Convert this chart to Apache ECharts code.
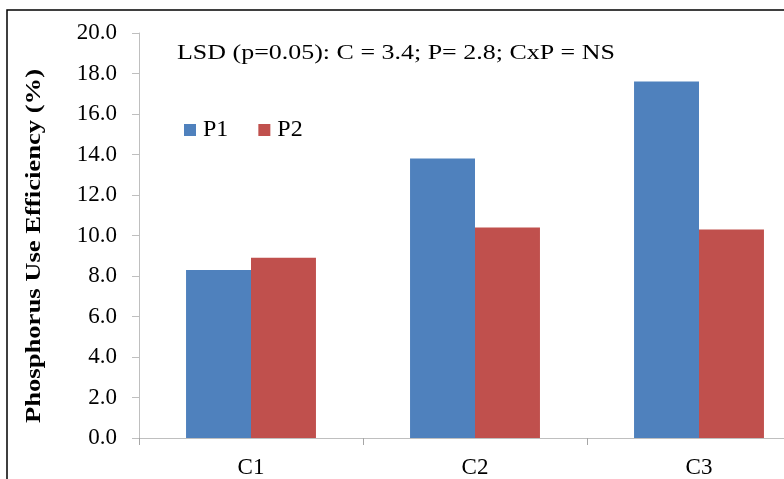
<!DOCTYPE html>
<html>
<head>
<meta charset="utf-8">
<script src="https://cdn.jsdelivr.net/npm/echarts@6/dist/echarts.min.js"></script>
<style>html,body{margin:0;padding:0;background:#fff;overflow:hidden;width:784px;height:479px}#c{width:820px;height:479px}</style>
</head>
<body>
<div id="c"></div>
<script>
var categories = ['C1', 'C2', 'C3'];
var seriesNames = ['P1', 'P2'];
var p1Values = [8.3, 13.8, 17.6];
var p2Values = [8.9, 10.4, 10.3];
var yTicks = [0, 2, 4, 6, 8, 10, 12, 14, 16, 18, 20];
var annotation = 'LSD (p=0.05): C = 3.4; P= 2.8; CxP = NS';
var yTitle = 'Phosphorus Use Efficiency (%)';

var font = '"Liberation Serif", "Times New Roman", serif';
var chart = echarts.init(document.getElementById('c'));
chart.setOption({
  animation: false,
  backgroundColor: '#fff',
  grid: { left: 139, top: 33, bottom: 41, right: 9, containLabel: false },
  legend: {
    data: seriesNames,
    left: 184, top: 118, padding: 0,
    itemWidth: 12, itemHeight: 12, itemGap: 30,
    icon: 'rect',
    textStyle: { fontFamily: font, fontSize: 24, color: '#000', padding: [0, 0, 0, 2] }
  },
  xAxis: {
    type: 'category',
    data: categories,
    axisLine: { lineStyle: { color: '#bfbfbf', width: 1 } },
    axisTick: { show: true, length: 7, lineStyle: { color: '#a6a6a6' } },
    axisLabel: { fontFamily: font, fontSize: 23, color: '#000', margin: 18 }
  },
  yAxis: {
    type: 'value',
    min: yTicks[0], max: yTicks[yTicks.length - 1], interval: 2,
    axisLine: { show: true, lineStyle: { color: '#bfbfbf', width: 1 } },
    axisTick: { show: true, length: 7, lineStyle: { color: '#bfbfbf' } },
    splitLine: { show: false },
    axisLabel: { fontFamily: font, fontSize: 23, color: '#000', margin: 22,
      formatter: function (v) { return v.toFixed(1); } }
  },
  graphic: [
    { type: 'rect', shape: { x: 7, y: 10, width: 900, height: 600 },
      style: { fill: 'none', stroke: '#000', lineWidth: 1.5 }, silent: true },
    { type: 'text', x: 177, y: 53, scaleX: 1.18,
      style: { text: annotation, fontFamily: font, fontSize: 22, fill: '#000',
        textAlign: 'left', textVerticalAlign: 'middle' } },
    { type: 'text', x: 34, y: 246, rotation: Math.PI / 2, scaleX: 1.21,
      style: { text: yTitle, fontFamily: font, fontSize: 22, fontWeight: 'bold', fill: '#000',
        textAlign: 'center', textVerticalAlign: 'middle' } }
  ],
  series: [
    { name: seriesNames[0], type: 'bar', data: p1Values, barGap: '0%', barCategoryGap: '42%',
      itemStyle: { color: '#4f81bd' } },
    { name: seriesNames[1], type: 'bar', data: p2Values, barGap: '0%', barCategoryGap: '42%',
      itemStyle: { color: '#c0504d' } }
  ]
});
</script>
</body>
</html>
